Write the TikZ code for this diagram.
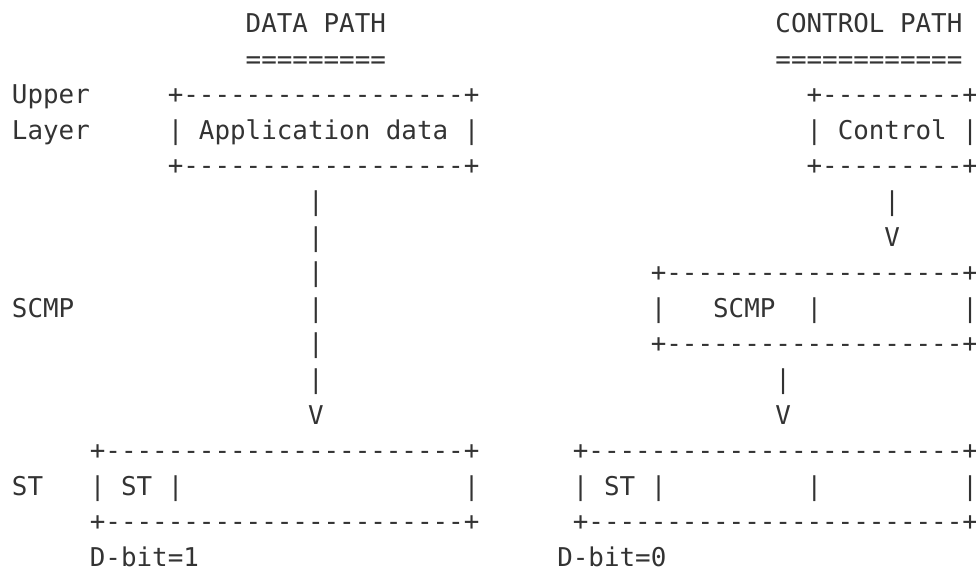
\documentclass[tikz,border=0pt]{standalone}
\usepackage{fontspec}
\setmonofont{DejaVu Sans Mono}
\definecolor{ink}{HTML}{333333}
% character grid: column width and line pitch of the monospaced figure
\newcommand\colx[1]{12+15.58*#1}
\newcommand\rowy[1]{32.45+35.6*#1}
\tikzset{
  cell/.style={anchor=base west, inner sep=0pt, outer sep=0pt, text=ink,
    font=\ttfamily\fontsize{25.88pt}{35.6pt}\selectfont},
}
\begin{document}
\begin{tikzpicture}[x=1pt,y=-1pt]
\useasboundingbox (0,0) rectangle (976,568);
% headings
\node[cell] (dtitle) at ({\colx{15}},{\rowy{0}}) {DATA PATH};
\node[cell] (ctitle) at ({\colx{49}},{\rowy{0}}) {CONTROL PATH};
\node[cell] (dline)  at ({\colx{15}},{\rowy{1}}) {=========};
\node[cell] (cline)  at ({\colx{49}},{\rowy{1}}) {============};
% upper layer
\node[cell] (lblupper) at ({\colx{0}},{\rowy{2}}) {Upper};
\node[cell] (lbllayer) at ({\colx{0}},{\rowy{3}}) {Layer};
\node[cell] (apptop) at ({\colx{10}},{\rowy{2}}) {+------------------+};
\node[cell] (appmid) at ({\colx{10}},{\rowy{3}}) {| Application data |};
\node[cell] (appbot) at ({\colx{10}},{\rowy{4}}) {+------------------+};
\node[cell] (ctltop) at ({\colx{51}},{\rowy{2}}) {+---------+};
\node[cell] (ctlmid) at ({\colx{51}},{\rowy{3}}) {| Control |};
\node[cell] (ctlbot) at ({\colx{51}},{\rowy{4}}) {+---------+};
% data path arrow
\node[cell] (da5)  at ({\colx{19}},{\rowy{5}}) {|};
\node[cell] (da6)  at ({\colx{19}},{\rowy{6}}) {|};
\node[cell] (da7)  at ({\colx{19}},{\rowy{7}}) {|};
\node[cell] (da8)  at ({\colx{19}},{\rowy{8}}) {|};
\node[cell] (da9)  at ({\colx{19}},{\rowy{9}}) {|};
\node[cell] (da10) at ({\colx{19}},{\rowy{10}}) {|};
\node[cell] (da11) at ({\colx{19}},{\rowy{11}}) {V};
% control to SCMP arrow
\node[cell] (ca5) at ({\colx{56}},{\rowy{5}}) {|};
\node[cell] (ca6) at ({\colx{56}},{\rowy{6}}) {V};
% SCMP
\node[cell] (lblscmp) at ({\colx{0}},{\rowy{8}}) {SCMP};
\node[cell] (scmptop) at ({\colx{41}},{\rowy{7}}) {+-------------------+};
\node[cell] (scmpl)   at ({\colx{41}},{\rowy{8}}) {|};
\node[cell] (scmptx)  at ({\colx{45}},{\rowy{8}}) {SCMP};
\node[cell] (scmpm)   at ({\colx{51}},{\rowy{8}}) {|};
\node[cell] (scmpr)   at ({\colx{61}},{\rowy{8}}) {|};
\node[cell] (scmpbot) at ({\colx{41}},{\rowy{9}}) {+-------------------+};
% SCMP to ST arrow
\node[cell] (sa10) at ({\colx{49}},{\rowy{10}}) {|};
\node[cell] (sa11) at ({\colx{49}},{\rowy{11}}) {V};
% ST
\node[cell] (lblst) at ({\colx{0}},{\rowy{13}}) {ST};
\node[cell] (st1top) at ({\colx{5}},{\rowy{12}}) {+-----------------------+};
\node[cell] (st1a)   at ({\colx{5}},{\rowy{13}}) {| ST |};
\node[cell] (st1r)   at ({\colx{29}},{\rowy{13}}) {|};
\node[cell] (st1bot) at ({\colx{5}},{\rowy{14}}) {+-----------------------+};
\node[cell] (st2top) at ({\colx{36}},{\rowy{12}}) {+------------------------+};
\node[cell] (st2a)   at ({\colx{36}},{\rowy{13}}) {| ST |};
\node[cell] (st2m)   at ({\colx{51}},{\rowy{13}}) {|};
\node[cell] (st2r)   at ({\colx{61}},{\rowy{13}}) {|};
\node[cell] (st2bot) at ({\colx{36}},{\rowy{14}}) {+------------------------+};
% D-bit notes
\node[cell] (dbit1) at ({\colx{5}},{\rowy{15}}) {D-bit=1};
\node[cell] (dbit0) at ({\colx{35}},{\rowy{15}}) {D-bit=0};
\end{tikzpicture}
\end{document}
